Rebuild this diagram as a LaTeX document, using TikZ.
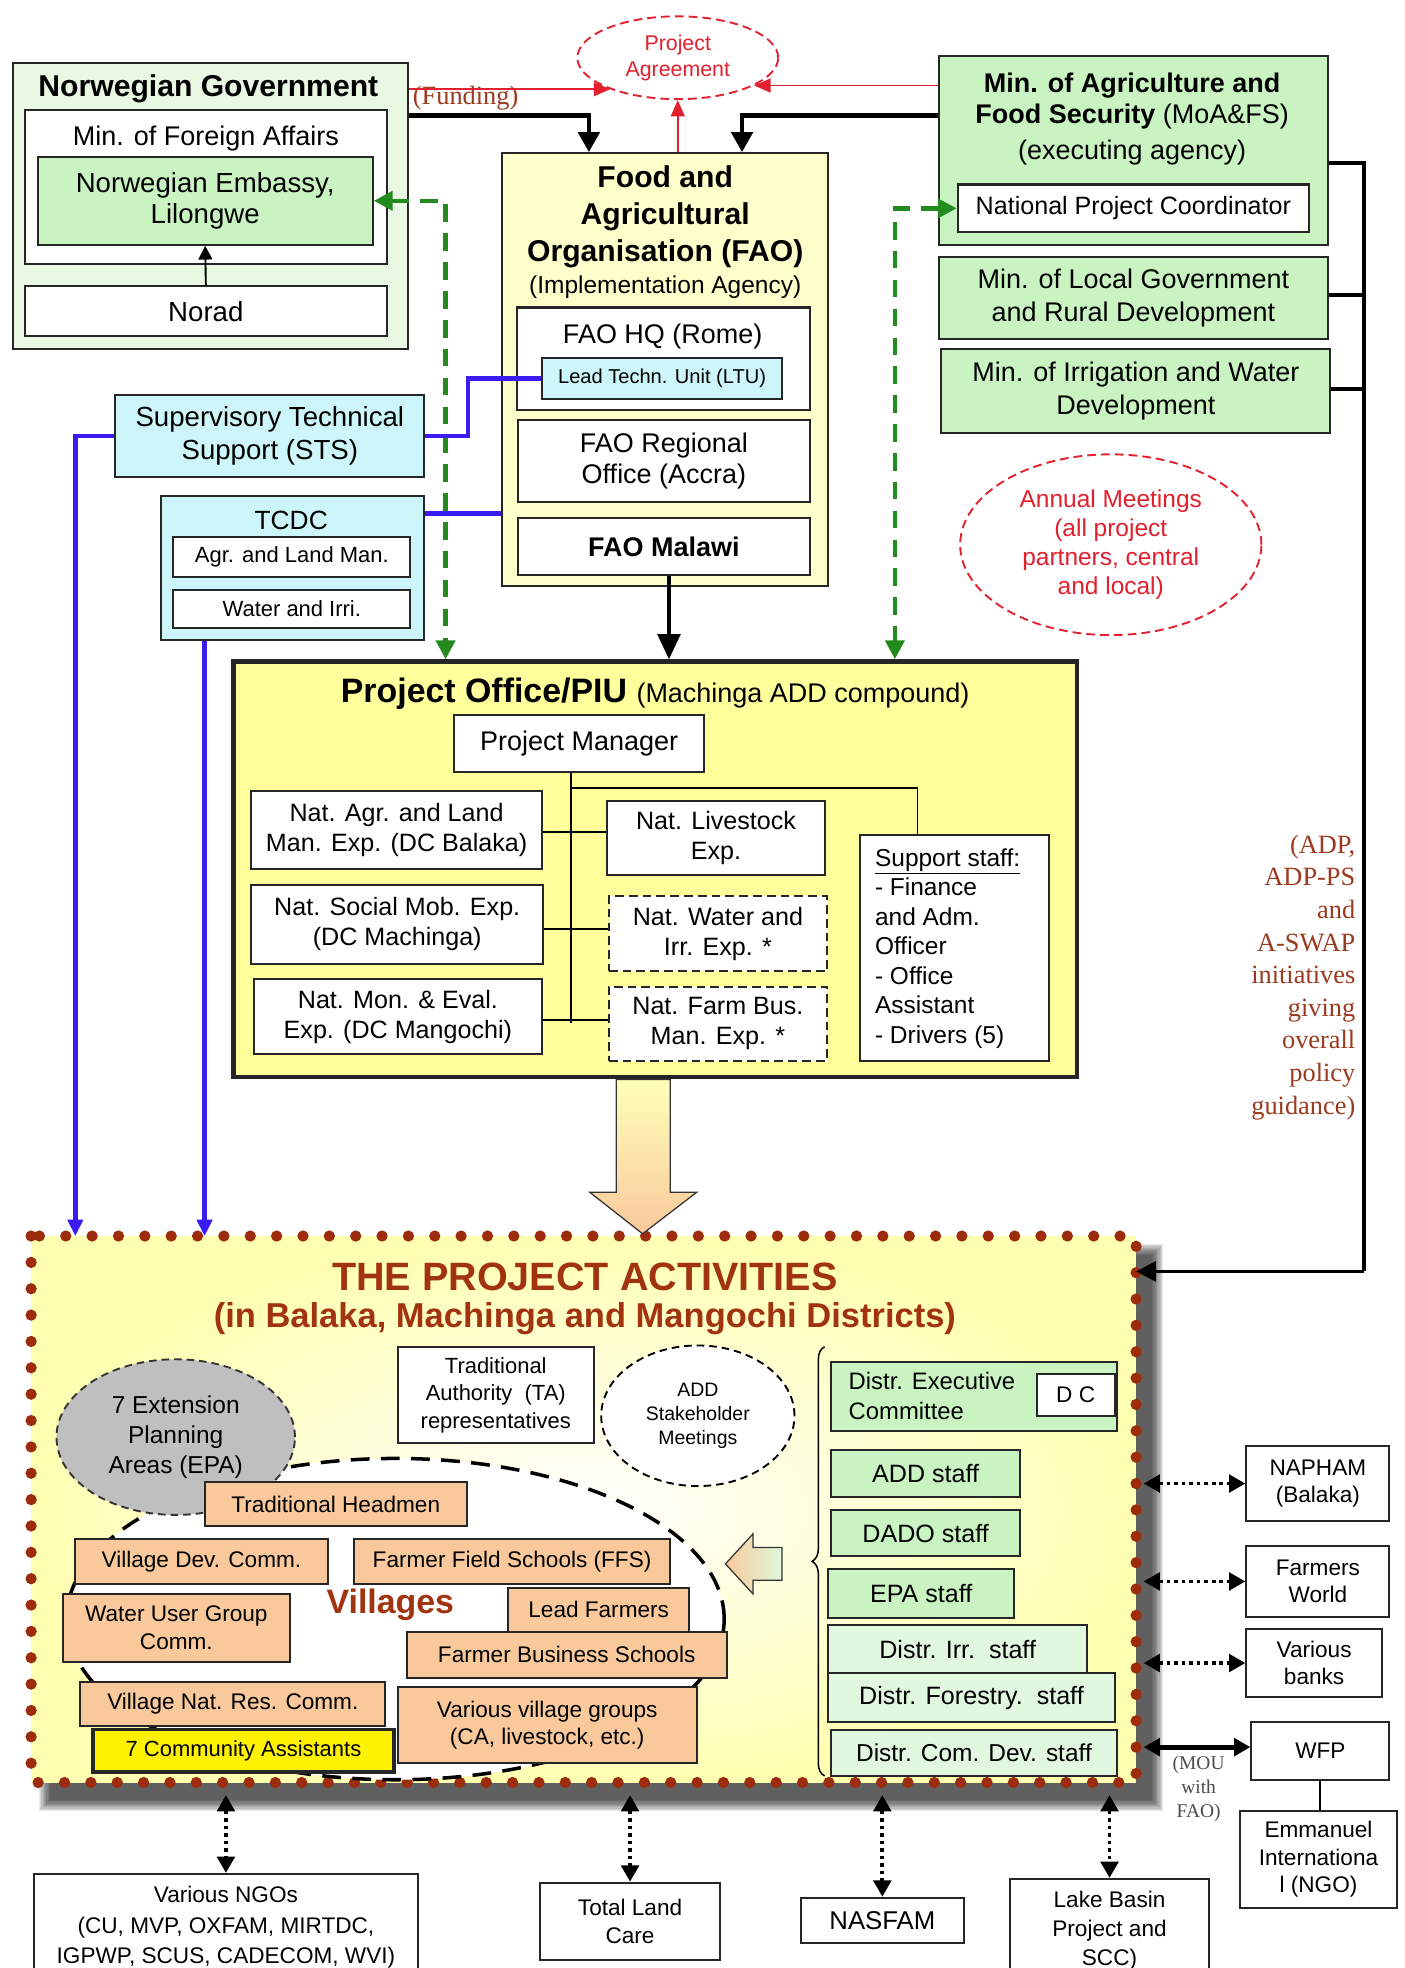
\documentclass[tikz,border=0pt]{standalone}
\usepackage{fontspec}
\setmainfont{Liberation Sans}
\newfontfamily\serifff{Liberation Serif}
\usetikzlibrary{arrows.meta,shapes.geometric,decorations.pathreplacing,calc}
\definecolor{ngfill}{HTML}{E9F8E3}
\definecolor{bgreen}{HTML}{C9F4C2}
\definecolor{lgreen}{HTML}{E2F7E0}
\definecolor{cyanb}{HTML}{CCF6FA}
\definecolor{faoy}{HTML}{FFFFCC}
\definecolor{poy}{HTML}{FFFF9C}
\definecolor{orng}{HTML}{F9C99B}
\definecolor{redd}{HTML}{E2202E}
\definecolor{brn}{HTML}{9A3A1E}
\definecolor{actred}{HTML}{A2330F}
\definecolor{dotc}{HTML}{9C2C0C}
\definecolor{blu}{HTML}{3A1CF2}
\definecolor{grn}{HTML}{238A1E}
\newcommand\fsz[2]{\fontsize{#1}{#2}\selectfont}
\newcommand\bx[7]{\node[#6,minimum width={#4pt-#2pt},minimum height={#5pt-#3pt}] (#1) at ({(#2+#4)/2},{(#3+#5)/2}) {#7};}
\begin{document}
\begin{tikzpicture}[x=1pt,y=-1pt,
  box/.style={draw=black!85,line width=1.6pt,inner sep=2pt,align=center},
  wb/.style={box,fill=white},
  gb/.style={box,fill=bgreen},
  pb/.style={box,fill=lgreen},
  ob/.style={box,fill=orng,font={\fsz{18}{22}}},
  txt/.style={inner sep=0pt,align=center},
  blkarr/.style={line width=3.5pt,-{Triangle[length=16pt,width=17pt]}},
  redarr/.style={draw=redd,line width=1.5pt,-{Triangle[length=13pt,width=11pt]}},
  grnarr/.style={draw=grn,line width=3.5pt,dash pattern=on 14pt off 9pt,{Triangle[length=15pt,width=15pt]}-{Triangle[length=15pt,width=15pt]}},
  bluline/.style={draw=blu,line width=3.5pt},
  bluarr/.style={draw=blu,line width=3.5pt,-{Triangle[length=13pt,width=12pt]}},
  dar/.style={line width=3pt,dash pattern=on 3pt off 3pt,{Triangle[length=13pt,width=14pt]}-{Triangle[length=13pt,width=14pt]}},
  redell/.style={ellipse,draw=redd,line width=1.5pt,dash pattern=on 7pt off 4pt,text=redd,align=center,inner sep=0pt}]
\useasboundingbox (0,0) rectangle (1119,1568);
\fill[white] (0,0) rectangle (1119,1568);

% ---------- Norwegian Government ----------
\bx{ng}{10}{50}{325}{278}{box,fill=ngfill}{}
\node[txt,font={\fsz{24}{28}\bfseries}] (ngt) at (166,71) {Norwegian Government};
\bx{mfa}{20}{88}{308}{210}{wb}{}
\node[txt,font={\fsz{21.5}{26}}] (mfat) at (164,110) {Min. of Foreign Affairs};
\bx{emb}{30}{125}{297}{195}{gb,font={\fsz{22}{25}}}{Norwegian Embassy,\\Lilongwe}
\bx{norad}{20}{228}{308}{268}{wb,font={\fsz{22}{26}}}{Norad}
\draw[line width=1.5pt,-{Triangle[length=11pt,width=11pt]}] (norad.north) -- (emb.south);

% ---------- Project Agreement ----------
\node[redell,minimum width=160pt,minimum height=66pt,font={\fsz{17}{21}}] (pa) at (540,46) {Project\\Agreement};
\node[text=brn,inner sep=0pt,font={\serifff\fsz{21}{25}}] (fund) at (371,78) {(Funding)};

% ---------- FAO ----------
\bx{fao}{400}{122}{660}{467}{box,fill=faoy}{}
\node[txt,font={\fsz{24}{29.5}\bfseries}] (faot) at (530,173) {Food and\\Agricultural\\Organisation (FAO)};
\node[txt,font={\fsz{19.5}{23}}] (faoimp) at (530,229) {(Implementation Agency)};
\bx{hq}{412}{245}{645}{327}{wb}{}
\node[txt,font={\fsz{21.5}{25}}] (hqt) at (528,268) {FAO HQ (Rome)};
\bx{ltu}{432}{285}{623}{318}{box,fill=cyanb,font={\fsz{16}{19}}}{Lead Techn. Unit (LTU)}
\bx{reg}{413}{335}{645}{400}{wb,font={\fsz{21.5}{25}}}{FAO Regional\\Office (Accra)}
\bx{mal}{413}{413}{645}{458}{wb,font={\fsz{21.5}{25}\bfseries}}{FAO Malawi}

% ---------- Ministries ----------
\bx{moa}{748}{45}{1058}{195}{gb}{}
\node[txt,font={\fsz{21.5}{24}}] (moat) at (902,95) {\textbf{Min. of Agriculture and}\\\textbf{Food Security} (MoA\&FS)\\[5pt](executing agency)};
\bx{npc}{763}{147}{1043}{185}{wb,font={\fsz{20}{24}}}{National Project Coordinator}
\bx{mlg}{748}{205}{1058}{270}{gb,font={\fsz{21.5}{26}}}{Min. of Local Government\\and Rural Development}
\bx{miw}{750}{278}{1060}{345}{gb,font={\fsz{21.5}{26}}}{Min. of Irrigation and Water\\Development}

% ---------- STS / TCDC ----------
\bx{sts}{92}{315}{338}{380}{box,fill=cyanb,font={\fsz{22}{26}}}{Supervisory Technical\\Support (STS)}
\bx{tcdc}{128}{395}{338}{510}{box,fill=cyanb}{}
\node[txt,font={\fsz{21}{25}}] (tcdct) at (232,415) {TCDC};
\bx{agr}{138}{428}{327}{460}{wb,font={\fsz{17.5}{21}}}{Agr. and Land Man.}
\bx{wat}{138}{470}{327}{500}{wb,font={\fsz{17.5}{21}}}{Water and Irri.}

% ---------- Annual meetings ----------
\node[redell,minimum width=240pt,minimum height=144pt,font={\fsz{19.5}{23}}] (am) at (885,434) {Annual Meetings\\(all project\\partners, central\\and local)};

% ---------- Project Office ----------
\bx{po}{186}{527}{858}{858}{box,fill=poy,line width=3.5pt}{}
\node[txt] (pot) at (522,553) {\fsz{27}{30}\textbf{Project Office/PIU} \fsz{21.5}{25}(Machinga ADD compound)};
\bx{pm}{362}{570}{561}{615}{wb,font={\fsz{21.5}{25}}}{Project Manager}
\bx{e1}{200}{630}{432}{692}{wb,font={\fsz{20}{24}}}{Nat. Agr. and Land\\Man. Exp. (DC Balaka)}
\bx{e2}{200}{705}{433}{768}{wb,font={\fsz{20}{24}}}{Nat. Social Mob. Exp.\\(DC Machinga)}
\bx{e3}{202}{780}{432}{840}{wb,font={\fsz{20}{24}}}{Nat. Mon. \& Eval.\\Exp. (DC Mangochi)}
\bx{e4}{484}{638}{657}{697}{wb,font={\fsz{20}{24}}}{Nat. Livestock\\Exp.}
\bx{e5}{485}{714}{659}{774}{wb,dash pattern=on 7pt off 4pt,font={\fsz{20}{24}}}{Nat. Water and\\Irr. Exp. *}
\bx{e6}{485}{786}{659}{845}{wb,dash pattern=on 7pt off 4pt,font={\fsz{20}{24}}}{Nat. Farm Bus.\\Man. Exp. *}
\bx{sup}{685}{665}{836}{845}{wb}{}
\node[inner sep=0pt,align=left,anchor=north west,font={\fsz{19.5}{23.5}}] (supt) at (697,676) {\underline{Support staff:}\\- Finance\\and Adm.\\Officer\\- Office\\Assistant\\- Drivers (5)};
\coordinate (vj) at (455,815);
\draw[line width=1.5pt] (pm.south -| vj) -- (vj);
\draw[line width=1.5pt] (vj |- 0,628) -| (sup.north -| 731,0);
\draw[line width=1.5pt] (e1.east |- 0,663) -- (e4.west |- 0,663);
\draw[line width=1.5pt] (e2.east |- 0,740) -- (e5.west |- 0,740);
\draw[line width=1.5pt] (e3.east |- 0,813) -- (e6.west |- 0,813);

% ---------- top connectors ----------
\draw[redarr] (ng.east |- pa.205) -- (pa.205);
\draw[redarr] (moa.west |- pa.340) -- (pa.340);
\draw[redarr] (fao.north -| pa.south) -- (pa.south);
\draw[blkarr] (ng.east |- 0,92) -| ($(fao.north west)+(70,0)$);
\draw[blkarr] (moa.west |- 0,92) -| ($(fao.north west)+(192,0)$);
\draw[line width=3pt,-{Triangle[length=20pt,width=18pt]}] (mal.south -| 533,0) -- (po.north -| 533,0);
\draw[grnarr] (emb.east) -| (po.north -| 355,0);
\draw[grnarr] (npc.west) -| (po.north -| 713,0);
\draw[bluline] (sts.east) -- ++(34,0) |- (ltu.west);
\draw[bluline] (tcdc.east |- 0,409) -- (fao.west |- 0,409);

% ---------- Activities box ----------
\foreach \i in {0,...,9} {\fill[black,opacity=0.09] (40-\i,1000-\i) rectangle (918+\i,1434+\i);}
\bx{act}{25}{985}{905}{1420}{draw=none,inner color=white,outer color=yellow!30!white}{}
\draw[dotc,line width=9pt,line cap=round,dash pattern=on 0pt off 21pt] (act.north west) rectangle (act.south east);
\draw[bluarr] (sts.west) -| (act.north -| 60,0);
\draw[bluarr] (tcdc.south -| 163,0) -- (act.north -| 163,0);
\draw[line width=3pt] (moa.east |- 0,130) -- (1087,130) -- (1087,1013);
\draw[line width=3pt] (mlg.east |- 0,235) -- (1087,235);
\draw[line width=3pt] (miw.east |- 0,310) -- (1087,310);
\draw[line width=3pt,-{Triangle[length=16pt,width=16pt]}] (1087,1013) -- (act.east |- 0,1013);
\node[inner sep=0pt,align=right,anchor=north east,text=brn,font={\serifff\fsz{21}{26}}] (pol) at (1080,665) {(ADP,\\ADP-PS\\and\\A-SWAP\\initiatives\\giving\\overall\\policy\\guidance)};

% big block arrow
\shade[top color=poy!70!white,bottom color=orng,draw=black!80,line width=1pt] (491,860) -- (534,860) -- (534,950) -- (555,950) -- (512,983) -- (470,950) -- (491,950) -- cycle;

\node[txt,text=actred,font={\fsz{31.5}{35}\bfseries}] (actt) at (466,1017) {THE PROJECT ACTIVITIES};
\node[txt,text=actred,font={\fsz{27.5}{31}\bfseries}] (actt2) at (466,1051) {(in Balaka, Machinga and Mangochi Districts)};

\node[ellipse,draw=black,fill=white,line width=2.8pt,dash pattern=on 15pt off 9pt,minimum width=524pt,minimum height=256pt] (vil) at (315,1290) {};
\node[ellipse,draw=black!80,fill=black!25,line width=1.5pt,dash pattern=on 6pt off 4pt,minimum width=190pt,minimum height=124pt,align=center,inner sep=0pt,font={\fsz{19.5}{24}}] (epa) at (140,1145) {7 Extension\\Planning\\Areas (EPA)};
\bx{ta}{317}{1073}{473}{1150}{wb,font={\fsz{17.5}{22}}}{Traditional\\Authority~~(TA)\\representatives}
\node[ellipse,draw=black,fill=white,line width=1.5pt,dash pattern=on 6pt off 4pt,minimum width=154pt,minimum height=112pt,align=center,inner sep=0pt,font={\fsz{15.5}{19}}] (addm) at (556,1128) {ADD\\Stakeholder\\Meetings};
\node[txt,text=actred,font={\fsz{27}{30}\bfseries}] (vilt) at (311,1279) {Villages};

\bx{th}{163}{1181}{372}{1216}{ob}{Traditional Headmen}
\bx{vdc}{60}{1226}{261}{1262}{ob}{Village Dev. Comm.}
\bx{ffs}{282}{1226}{534}{1262}{ob}{Farmer Field Schools (FFS)}
\bx{wug}{50}{1270}{231}{1324}{ob}{Water User Group\\Comm.}
\bx{lf}{405}{1265}{549}{1300}{ob}{Lead Farmers}
\bx{fbs}{324}{1300}{579}{1337}{ob}{Farmer Business Schools}
\bx{vnr}{64}{1340}{307}{1375}{ob}{Village Nat. Res. Comm.}
\bx{vvg}{317}{1344}{555}{1405}{ob}{Various village groups\\(CA, livestock, etc.)}
\bx{ca}{74}{1378}{314}{1412}{box,fill=yellow,line width=3pt,font={\fsz{17.5}{21}}}{7 Community Assistants}

% right column
\draw[decorate,decoration={brace,amplitude=10pt},line width=1.2pt] (657,1415) -- (657,1073);
\bx{dec}{662}{1085}{890}{1140}{gb}{}
\node[inner sep=0pt,align=left,anchor=west,font={\fsz{19}{24}}] (dect) at (676,1112) {Distr. Executive\\Committee};
\bx{dc}{826}{1095}{888}{1128}{wb,font={\fsz{18}{22}}}{D C}
\bx{adds}{662}{1155}{813}{1193}{gb,font={\fsz{20}{24}}}{ADD staff}
\bx{dado}{662}{1203}{813}{1240}{gb,font={\fsz{20}{24}}}{DADO staff}
\bx{epas}{660}{1250}{808}{1289}{gb,font={\fsz{20}{24}}}{EPA staff}
\bx{irr}{660}{1295}{866}{1333}{pb,font={\fsz{20}{24}}}{Distr. Irr.~~staff}
\bx{for}{660}{1333}{888}{1372}{pb,font={\fsz{20}{24}}}{Distr. Forestry.~~staff}
\bx{cdv}{662}{1378}{890}{1415}{pb,font={\fsz{19.5}{24}}}{Distr. Com. Dev. staff}
\shade[left color=orng,right color=bgreen!60!white,draw=black!80,line width=1pt] (623,1233) -- (600,1233) -- (600,1222) -- (578,1246) -- (600,1270) -- (600,1259) -- (623,1259) -- cycle;

% outside right
\bx{nap}{993}{1152}{1107}{1212}{wb,font={\fsz{18}{22}}}{NAPHAM\\(Balaka)}
\bx{fw}{993}{1232}{1107}{1288}{wb,font={\fsz{18}{22}}}{Farmers\\World}
\bx{vb}{993}{1298}{1101}{1352}{wb,font={\fsz{18}{22}}}{Various\\banks}
\bx{wfp}{997}{1372}{1107}{1418}{wb,font={\fsz{18}{22}}}{WFP}
\bx{emi}{988}{1443}{1113}{1520}{wb,font={\fsz{18}{22}}}{Emmanuel\\Internationa\\l (NGO)}
\draw[line width=1.6pt] (wfp.south) -- (wfp.south |- emi.north);
\draw[dar] ($(act.east |- nap.west)+(6,0)$) -- (nap.west);
\draw[dar] ($(act.east |- fw.west)+(6,0)$) -- (fw.west);
\draw[dar] ($(act.east |- vb.west)+(6,0)$) -- (vb.west);
\draw[line width=4pt,{Triangle[length=13pt,width=14pt]}-{Triangle[length=13pt,width=14pt]}] ($(act.east |- wfp.west)+(6,-3)$) -- ($(wfp.west)+(0,-3)$);
\node[inner sep=0pt,align=center,text=black!70,font={\serifff\fsz{15.5}{19}}] (mou) at (955,1425) {(MOU\\with\\FAO)};

% bottom
\bx{ngo}{27}{1493}{333}{1578}{wb,font={\fsz{18}{24}}}{Various NGOs\\(CU, MVP, OXFAM, MIRTDC,\\IGPWP, SCUS, CADECOM, WVI)}
\bx{tlc}{430}{1500}{574}{1562}{wb,font={\fsz{18}{22}}}{Total Land\\Care}
\bx{nas}{638}{1512}{768}{1548}{wb,font={\fsz{20.5}{24}}}{NASFAM}
\bx{lbp}{805}{1497}{963}{1580}{wb,font={\fsz{18}{23}}}{Lake Basin\\Project and\\SCC)}
\draw[dar] ($(act.south -| ngo.north)+(0,10)$) -- (ngo.north);
\draw[dar] ($(act.south -| tlc.north)+(0,10)$) -- (tlc.north);
\draw[dar] ($(act.south -| nas.north)+(0,10)$) -- (nas.north);
\draw[dar] ($(act.south -| lbp.north)+(0,10)$) -- (lbp.north);
\end{tikzpicture}
\end{document}
